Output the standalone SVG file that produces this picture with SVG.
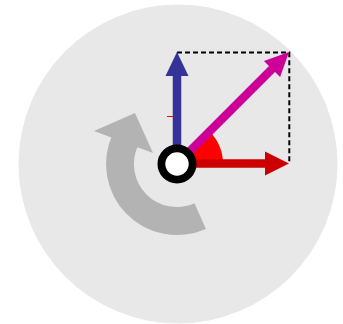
<svg xmlns="http://www.w3.org/2000/svg" width="343" height="324" viewBox="0 0 343 324">
<style>
.shaft{stroke-width:8.5;fill:none}
.dash{stroke:#000;stroke-width:2;stroke-dasharray:5 3;fill:none}
</style>
<rect width="343" height="324" fill="#fff"/>
<circle id="disc" cx="178" cy="164" r="159.5" fill="#e8e8e8"/>
<g id="rotation">
<path d="M205.9,228.9 A71,71 0 0 1 112.7,134 L138,145.8 A43,43 0 0 0 194.5,203.3 Z" fill="#b3b3b3"/>
<polygon points="94,131 135,113 153,153" fill="#b3b3b3"/>
</g>
<g id="angle">
<path d="M177,164 L223,164 A46,46 0 0 0 209.5,131.5 Z" fill="#f00"/>
</g>
<g id="connectors">
<path class="dash" d="M177,52.5 H289.3 V164"/>
<line x1="167" y1="116.5" x2="173" y2="116.5" stroke="#f00" stroke-width="1"/>
</g>
<g id="x-vector">
<line class="shaft" x1="177" y1="163.5" x2="266" y2="163.5" stroke="#cc0000"/>
<polygon points="289,163.5 265,151.5 265,175.5" fill="#cc0000"/>
</g>
<g id="y-vector">
<line class="shaft" x1="177" y1="164" x2="177" y2="75" stroke="#333399"/>
<polygon points="177,52 165.5,76 188.5,76" fill="#333399"/>
</g>
<g id="resultant">
<line class="shaft" x1="177" y1="164" x2="273" y2="68" stroke="#cc0099"/>
<polygon points="289,52 263.9,60.9 280.1,77.1" fill="#cc0099"/>
</g>
<g id="hub">
<circle cx="177" cy="164" r="15.6" fill="#fff" stroke="#000" stroke-width="7.8"/>
</g>
</svg>
